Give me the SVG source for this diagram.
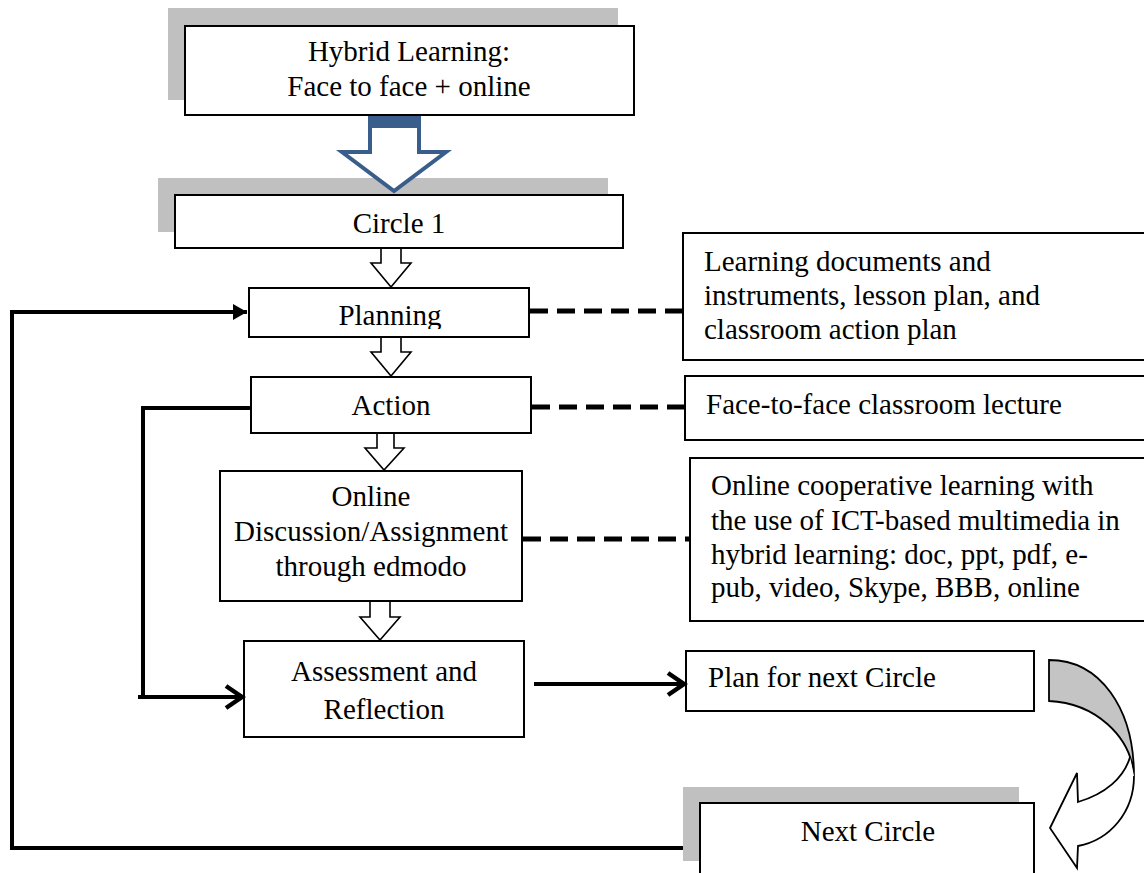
<svg xmlns="http://www.w3.org/2000/svg" width="1144" height="873" viewBox="0 0 1144 873">
  <style>
    .box { fill: #ffffff; stroke: #000000; stroke-width: 2; }
    .shadow { fill: #c0c0c0; stroke: none; }
    .t { font-family: "Liberation Serif", "Times New Roman", serif; font-size: 29px; fill: #000000; }
    .c { text-anchor: middle; }
    .blk { fill: #ffffff; stroke: #000000; stroke-width: 1.6; stroke-linejoin: miter; }
    .dash { fill: none; stroke: #000000; stroke-width: 5; stroke-dasharray: 18 9; }
    .solid { fill: none; stroke: #000000; stroke-width: 4; stroke-linejoin: miter; }
  </style>
  <defs>
    <marker id="tri" markerUnits="userSpaceOnUse" markerWidth="16" markerHeight="18" refX="14" refY="8" orient="auto" overflow="visible">
      <path d="M0,0 L14,8 L0,16 Z" fill="#000000"/>
    </marker>
    <marker id="chev" markerUnits="userSpaceOnUse" markerWidth="20" markerHeight="26" refX="16" refY="11" orient="auto" overflow="visible">
      <path d="M0,0 L16,11 L0,22" fill="none" stroke="#000000" stroke-width="4.5" stroke-linejoin="miter"/>
    </marker>
    <clipPath id="clipPlan"><rect x="249" y="288" width="280" height="41"/></clipPath>
  </defs>

  <rect width="1144" height="873" fill="#ffffff"/>

  <g id="hybrid">
    <rect class="shadow" x="168" y="8" width="450" height="92"/>
    <rect class="box" x="185" y="26" width="449" height="89"/>
    <text class="t c" x="409" y="61">Hybrid Learning:</text>
    <text class="t c" x="409" y="96">Face to face + online</text>
  </g>

  <g id="circle1">
    <rect class="shadow" x="158" y="178" width="450" height="54"/>
    <rect class="box" x="175" y="195" width="448" height="53"/>
    <text class="t c" x="399" y="233">Circle 1</text>
  </g>

  <g id="planning">
    <rect class="box" x="249" y="288" width="280" height="49"/>
    <text class="t c" x="390" y="325" clip-path="url(#clipPlan)">Planning</text>
  </g>

  <g id="action">
    <rect class="box" x="251" y="377" width="280" height="56"/>
    <text class="t c" x="391" y="415">Action</text>
  </g>

  <g id="online">
    <rect class="box" x="220" y="471" width="302" height="130"/>
    <text class="t c" x="371" y="506">Online</text>
    <text class="t c" x="371" y="541">Discussion/Assignment</text>
    <text class="t c" x="371" y="576">through edmodo</text>
  </g>

  <g id="assessment">
    <rect class="box" x="244" y="641" width="280" height="96"/>
    <text class="t c" x="384" y="681">Assessment and</text>
    <text class="t c" x="384" y="719">Reflection</text>
  </g>

  <g id="docs">
    <rect class="box" x="683" y="233" width="480" height="127"/>
    <text class="t" x="704" y="271">Learning documents and</text>
    <text class="t" x="704" y="305">instruments, lesson plan, and</text>
    <text class="t" x="704" y="339">classroom action plan</text>
  </g>

  <g id="lecture">
    <rect class="box" x="685" y="376" width="480" height="64"/>
    <text class="t" x="706" y="414">Face-to-face classroom lecture</text>
  </g>

  <g id="cooperative">
    <rect class="box" x="690" y="458" width="480" height="163"/>
    <text class="t" x="711" y="495">Online cooperative learning with</text>
    <text class="t" x="711" y="530">the use of ICT-based multimedia in</text>
    <text class="t" x="711" y="564">hybrid learning: doc, ppt, pdf, e-</text>
    <text class="t" x="711" y="597">pub, video, Skype, BBB, online</text>
  </g>

  <g id="plannext">
    <rect class="box" x="686" y="651" width="348" height="60"/>
    <text class="t" x="708" y="687">Plan for next Circle</text>
  </g>

  <g id="nextcircle">
    <rect class="shadow" x="683" y="787" width="336" height="74"/>
    <rect class="box" x="700" y="803" width="334" height="80"/>
    <text class="t c" x="868" y="841">Next Circle</text>
  </g>

  <g id="connectors">
    <!-- big loop from Next Circle back to Planning -->
    <path class="solid" d="M683,848 H12 V312 H247" marker-end="url(#tri)"/>
    <!-- loop from Action to Assessment -->
    <path class="solid" d="M250,408 H143 V697"/>
    <path class="solid" d="M138,697 H242" marker-end="url(#chev)"/>
    <!-- Assessment to Plan for next Circle -->
    <path class="solid" d="M534,684 H684" marker-end="url(#chev)"/>
    <!-- dashed links -->
    <line class="dash" x1="530" y1="311" x2="682" y2="311"/>
    <line class="dash" x1="532" y1="407" x2="684" y2="407"/>
    <line class="dash" x1="523" y1="539" x2="690" y2="539"/>
    <!-- big blue block arrow -->
    <path d="M370,116 V152 H342 L394,191 L446,152 H419 V116" fill="#ffffff" stroke="#3a5e8b" stroke-width="4" stroke-linejoin="miter"/>
    <rect x="368" y="116" width="53" height="12" fill="#3a5e8b"/>
    <!-- small block arrows -->
    <path class="blk" d="M381,249 V263 H371 L391,287 L411,263 H401 V249"/>
    <path class="blk" d="M381,338 V352 H371 L391,376 L411,352 H401 V338"/>
    <path class="blk" d="M377,434 V448 H365 L384,470 L404,448 H394 V434"/>
    <path class="blk" d="M370,602 V617 H360 L380,640 L400,617 H390 V602"/>
    <!-- curved arrow -->
    <path d="M1049,660 C1100,660 1134,708 1134,776 C1131,736 1095,703 1049,701 Z" fill="#c4c4c4" stroke="#000000" stroke-width="1.8"/>
    <path d="M1134,776 C1134,812 1110,840 1078,846 L1077,868 L1050,828 L1077,773 L1078,802 C1105,794 1124,778 1130,757" fill="#ffffff" stroke="#000000" stroke-width="1.8" stroke-linejoin="miter"/>
  </g>
</svg>
